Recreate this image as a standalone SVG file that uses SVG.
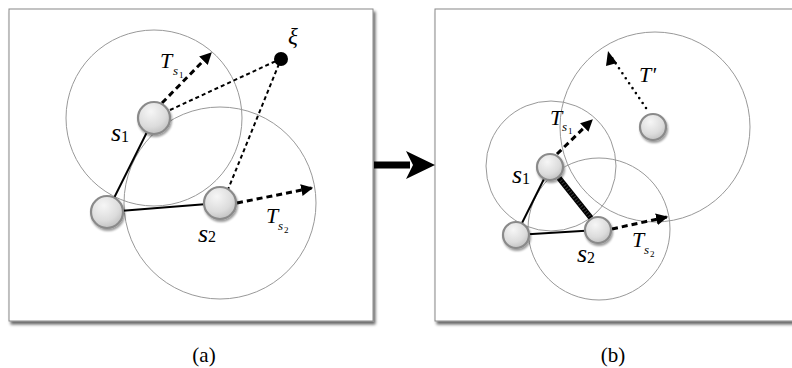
<svg xmlns="http://www.w3.org/2000/svg" width="792" height="368" viewBox="0 0 792 368">
<defs>
<radialGradient id="ng" cx="0.4" cy="0.3" r="0.8">
<stop offset="0" stop-color="#f6f6f6"/>
<stop offset="0.6" stop-color="#dcdcdc"/>
<stop offset="1" stop-color="#b8b8b8"/>
</radialGradient>
<filter id="ps" x="-5%" y="-5%" width="115%" height="115%">
<feGaussianBlur in="SourceAlpha" stdDeviation="1.5"/>
<feOffset dx="2" dy="3" result="b"/>
<feComponentTransfer><feFuncA type="linear" slope="0.6"/></feComponentTransfer>
<feMerge><feMergeNode/><feMergeNode in="SourceGraphic"/></feMerge>
</filter>
<filter id="ns" x="-40%" y="-40%" width="180%" height="180%">
<feGaussianBlur in="SourceAlpha" stdDeviation="1.2"/>
<feOffset dx="1" dy="2" result="b"/>
<feComponentTransfer><feFuncA type="linear" slope="0.4"/></feComponentTransfer>
<feMerge><feMergeNode/><feMergeNode in="SourceGraphic"/></feMerge>
</filter>
<marker id="ah" viewBox="0 0 10 10" refX="9" refY="5" markerWidth="4" markerHeight="4" markerUnits="strokeWidth" orient="auto">
<path d="M0,0 L10,5 L0,10 Z" fill="#000"/>
</marker>
</defs>
<style>
.panel{fill:#fff;stroke:#888;stroke-width:1}
.range{fill:none;stroke:#999;stroke-width:1}
.node{fill:url(#ng);stroke:#8a8a8a;stroke-width:2.2}
.solid{stroke:#000;stroke-width:2;fill:none}
.tdash{stroke:#000;stroke-width:3;stroke-dasharray:6 4;fill:none}
.thin{stroke:#000;stroke-width:2;stroke-dasharray:4 3;fill:none}
.dot{stroke:#000;stroke-width:2.6;stroke-dasharray:0 6;stroke-linecap:round;fill:none}
text{font-family:'Liberation Serif','Times New Roman','DejaVu Serif',serif;fill:#000}
.lb{font-style:italic}
</style>
<rect width="792" height="368" fill="#fff"/>
<g id="panel-a">
<rect class="panel" x="9" y="9" width="364" height="312" filter="url(#ps)"/>
</g>
<g id="panel-b">
<rect class="panel" x="435" y="9" width="370" height="312" filter="url(#ps)"/>
</g>
<g id="ranges">
<circle class="range" cx="154" cy="118" r="88"/>
<circle class="range" cx="220" cy="203" r="96"/>
<circle class="range" cx="655" cy="127" r="95"/>
<circle class="range" cx="551" cy="166" r="65"/>
<circle class="range" cx="599" cy="229" r="71"/>
</g>
<g id="connectors">
<line class="solid" x1="154" y1="118" x2="107" y2="212"/>
<line class="solid" x1="107" y1="212" x2="220" y2="203"/>
<line class="tdash" x1="162" y1="103" x2="211" y2="53" marker-end="url(#ah)"/>
<line class="thin" x1="170" y1="110" x2="276" y2="61"/>
<line class="thin" x1="279" y1="64" x2="227" y2="192"/>
<line class="tdash" x1="237" y1="203" x2="312" y2="188" marker-end="url(#ah)"/>
<line class="solid" x1="550" y1="167" x2="516" y2="235"/>
<line class="solid" x1="516" y1="235" x2="598" y2="230"/>
<line x1="559" y1="178" x2="591" y2="218" stroke="#000" stroke-width="5.5"/>
<line x1="559" y1="178" x2="591" y2="218" stroke="#3a3a3a" stroke-width="3.5" stroke-dasharray="1 2"/>
<line class="tdash" x1="557" y1="154" x2="592" y2="120" marker-end="url(#ah)"/>
<line class="dot" x1="646" y1="108" x2="612" y2="58"/>
<path d="M617,63 L608,51 L606,66 Z" fill="#000"/>
<line class="tdash" x1="612" y1="229" x2="667" y2="217" marker-end="url(#ah)"/>
<path d="M374,165 L410,165" stroke="#000" stroke-width="7"/>
<path d="M435,165 L406,151 L413,165 L406,179 Z" fill="#000"/>
</g>
<g id="node-a-s1"><circle class="node" cx="154" cy="118" r="16" filter="url(#ns)"/></g>
<g id="node-a-s2"><circle class="node" cx="220" cy="203" r="16" filter="url(#ns)"/></g>
<g id="node-a-3"><circle class="node" cx="107" cy="212" r="16" filter="url(#ns)"/></g>
<g id="node-a-xi"><circle cx="281" cy="59" r="7" fill="#000"/></g>
<g id="node-b-s1"><circle class="node" cx="550" cy="167" r="13" filter="url(#ns)"/></g>
<g id="node-b-s2"><circle class="node" cx="598" cy="230" r="13" filter="url(#ns)"/></g>
<g id="node-b-3"><circle class="node" cx="516" cy="235" r="13" filter="url(#ns)"/></g>
<g id="node-b-t"><circle class="node" cx="653" cy="127" r="13" filter="url(#ns)"/></g>
<g id="labels">
<text class="lb" x="160" y="68" font-size="22">T</text>
<text class="lb" x="173" y="75" font-size="13">s</text>
<text x="179" y="78" font-size="9">1</text>
<text class="lb" x="288" y="44" font-size="23">ξ</text>
<text class="lb" x="111" y="141" font-size="26">s</text>
<text x="121" y="142" font-size="16">1</text>
<text class="lb" x="198" y="242" font-size="26">s</text>
<text x="208" y="242" font-size="16">2</text>
<text class="lb" x="266" y="223" font-size="22">T</text>
<text class="lb" x="278" y="230" font-size="13">s</text>
<text x="284" y="233" font-size="9">2</text>
<text class="lb" x="639" y="82" font-size="22">T'</text>
<text class="lb" x="550" y="125" font-size="22">T</text>
<text class="lb" x="562" y="131" font-size="13">s</text>
<text x="568" y="134" font-size="9">1</text>
<text class="lb" x="512" y="183" font-size="26">s</text>
<text x="522" y="184" font-size="16">1</text>
<text class="lb" x="632" y="247" font-size="22">T</text>
<text class="lb" x="644" y="254" font-size="13">s</text>
<text x="650" y="257" font-size="9">2</text>
<text class="lb" x="577" y="262" font-size="26">s</text>
<text x="587" y="263" font-size="16">2</text>
<text x="204" y="362" font-size="21" text-anchor="middle">(a)</text>
<text x="613" y="362" font-size="21" text-anchor="middle">(b)</text>
</g>
</svg>
